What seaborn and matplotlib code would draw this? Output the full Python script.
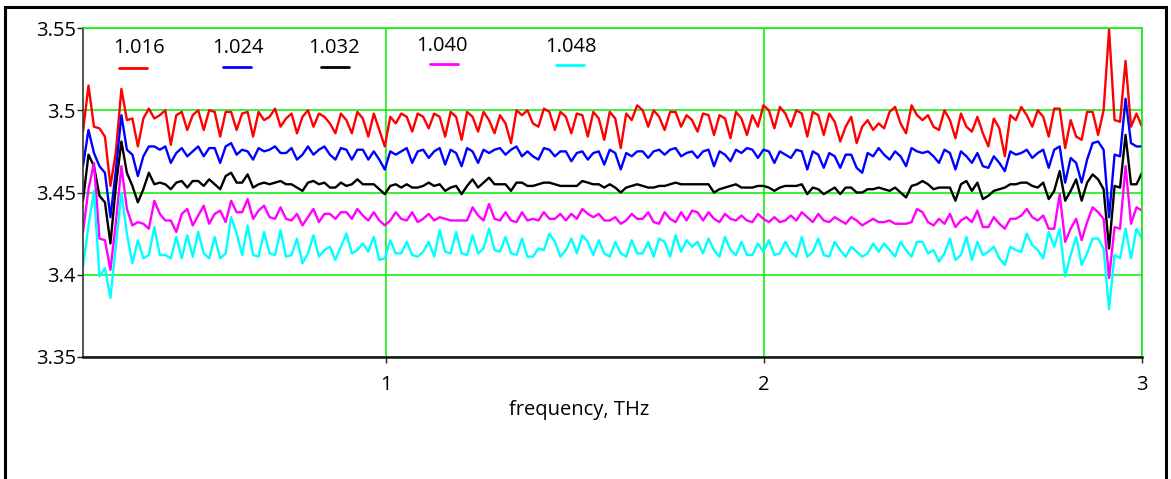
import numpy as np
import pandas as pd
import matplotlib
matplotlib.use("Agg")
import matplotlib.pyplot as plt
from matplotlib.patches import Rectangle
from matplotlib.lines import Line2D
import seaborn as sns

# Series names (legend labels) and colours
series_names = ["1.016", "1.024", "1.032", "1.040", "1.048"]
series_colors = ["#ff0000", "#0000ff", "#000000", "#ff00ff", "#00ffff"]

f_start, f_stop = 0.2, 3.0

n_1016 = [
    3.487, 3.515, 3.490, 3.489, 3.484, 3.454, 3.475, 3.513, 3.494, 3.495, 3.478, 3.495, 3.501, 3.495,
    3.497, 3.500, 3.479, 3.497, 3.499, 3.488, 3.497, 3.500, 3.488, 3.500, 3.499, 3.484, 3.499, 3.499,
    3.488, 3.498, 3.499, 3.484, 3.499, 3.494, 3.496, 3.501, 3.490, 3.495, 3.498, 3.486, 3.496, 3.500,
    3.490, 3.498, 3.496, 3.492, 3.486, 3.498, 3.494, 3.486, 3.499, 3.495, 3.484, 3.498, 3.488,
    3.478, 3.496, 3.492, 3.498, 3.496, 3.487, 3.498, 3.496, 3.489, 3.498, 3.496, 3.484, 3.499, 3.496,
    3.482, 3.499, 3.496, 3.487, 3.499, 3.494, 3.486, 3.497, 3.492, 3.480, 3.500, 3.497, 3.500,
    3.492, 3.490, 3.501, 3.499, 3.488, 3.499, 3.496, 3.486, 3.498, 3.497, 3.484, 3.499, 3.495, 3.482,
    3.499, 3.495, 3.477, 3.498, 3.494, 3.503, 3.500, 3.490, 3.500, 3.496, 3.488, 3.499, 3.499,
    3.490, 3.497, 3.494, 3.487, 3.498, 3.497, 3.485, 3.497, 3.495, 3.483, 3.499, 3.495, 3.485, 3.497,
    3.490, 3.503, 3.500, 3.489, 3.502, 3.498, 3.490, 3.500, 3.498, 3.484, 3.499, 3.497, 3.485,
    3.498, 3.493, 3.481, 3.490, 3.496, 3.480, 3.490, 3.494, 3.488, 3.492, 3.489, 3.499, 3.502, 3.492,
    3.486, 3.503, 3.497, 3.494, 3.497, 3.490, 3.488, 3.500, 3.494, 3.483, 3.498, 3.490, 3.487,
    3.496, 3.486, 3.478, 3.495, 3.489, 3.472, 3.497, 3.494, 3.502, 3.497, 3.490, 3.500, 3.496, 3.484,
    3.501, 3.501, 3.477, 3.494, 3.484, 3.482, 3.499, 3.499, 3.485, 3.500, 3.549, 3.494, 3.493, 3.530,
    3.490, 3.498, 3.490,
]

n_1024 = [
    3.466, 3.488, 3.474, 3.466, 3.462, 3.435, 3.464, 3.497, 3.476, 3.473, 3.460, 3.472, 3.478, 3.478,
    3.476, 3.478, 3.468, 3.474, 3.477, 3.472, 3.475, 3.478, 3.472, 3.477, 3.477, 3.468, 3.478, 3.480,
    3.473, 3.476, 3.475, 3.470, 3.477, 3.475, 3.476, 3.478, 3.474, 3.474, 3.477, 3.470, 3.473, 3.478,
    3.473, 3.476, 3.478, 3.473, 3.470, 3.477, 3.476, 3.470, 3.476, 3.476, 3.470, 3.475, 3.470,
    3.464, 3.475, 3.473, 3.475, 3.477, 3.468, 3.475, 3.476, 3.471, 3.475, 3.477, 3.467, 3.476, 3.474,
    3.466, 3.477, 3.475, 3.468, 3.476, 3.474, 3.476, 3.477, 3.473, 3.476, 3.478, 3.472, 3.475,
    3.472, 3.470, 3.477, 3.476, 3.472, 3.475, 3.475, 3.469, 3.474, 3.475, 3.470, 3.474, 3.475, 3.467,
    3.476, 3.474, 3.464, 3.474, 3.472, 3.475, 3.475, 3.471, 3.475, 3.476, 3.473, 3.476, 3.477,
    3.472, 3.474, 3.475, 3.471, 3.475, 3.476, 3.466, 3.475, 3.473, 3.469, 3.476, 3.474, 3.477, 3.476,
    3.471, 3.476, 3.475, 3.468, 3.475, 3.473, 3.471, 3.476, 3.475, 3.464, 3.475, 3.473, 3.465,
    3.474, 3.472, 3.465, 3.473, 3.473, 3.465, 3.462, 3.474, 3.472, 3.477, 3.473, 3.470, 3.475, 3.472,
    3.466, 3.477, 3.475, 3.474, 3.475, 3.472, 3.468, 3.476, 3.474, 3.464, 3.475, 3.472, 3.468,
    3.474, 3.466, 3.465, 3.472, 3.468, 3.463, 3.475, 3.473, 3.474, 3.476, 3.471, 3.474, 3.476, 3.465,
    3.476, 3.478, 3.456, 3.471, 3.468, 3.456, 3.470, 3.480, 3.481, 3.476, 3.435, 3.473, 3.472, 3.507,
    3.480, 3.478, 3.478,
]

n_1032 = [
    3.445, 3.473, 3.466, 3.448, 3.444, 3.419, 3.454, 3.481, 3.462, 3.454, 3.444, 3.452, 3.462, 3.455,
    3.456, 3.455, 3.452, 3.456, 3.457, 3.453, 3.457, 3.457, 3.454, 3.458, 3.455, 3.452, 3.460, 3.462,
    3.456, 3.456, 3.461, 3.453, 3.455, 3.456, 3.455, 3.456, 3.457, 3.455, 3.455, 3.453, 3.451, 3.456,
    3.457, 3.455, 3.456, 3.453, 3.453, 3.456, 3.454, 3.455, 3.458, 3.455, 3.455, 3.455, 3.452,
    3.449, 3.454, 3.455, 3.453, 3.455, 3.453, 3.453, 3.454, 3.456, 3.454, 3.455, 3.451, 3.453, 3.454,
    3.449, 3.454, 3.458, 3.453, 3.456, 3.459, 3.455, 3.455, 3.455, 3.451, 3.456, 3.456, 3.454,
    3.454, 3.455, 3.456, 3.456, 3.455, 3.454, 3.454, 3.454, 3.454, 3.457, 3.456, 3.455, 3.455, 3.453,
    3.455, 3.453, 3.450, 3.453, 3.454, 3.455, 3.454, 3.453, 3.453, 3.454, 3.454, 3.455, 3.456,
    3.455, 3.455, 3.455, 3.455, 3.455, 3.455, 3.450, 3.452, 3.453, 3.454, 3.455, 3.453, 3.453, 3.453,
    3.454, 3.454, 3.453, 3.451, 3.453, 3.454, 3.454, 3.454, 3.455, 3.449, 3.453, 3.452, 3.449,
    3.451, 3.453, 3.449, 3.453, 3.453, 3.450, 3.450, 3.452, 3.452, 3.453, 3.452, 3.451, 3.453, 3.450,
    3.447, 3.454, 3.455, 3.457, 3.455, 3.452, 3.453, 3.453, 3.453, 3.445, 3.455, 3.457, 3.451,
    3.456, 3.446, 3.448, 3.451, 3.452, 3.453, 3.455, 3.455, 3.456, 3.456, 3.454, 3.453, 3.456, 3.446,
    3.451, 3.463, 3.445, 3.451, 3.458, 3.445, 3.456, 3.461, 3.458, 3.452, 3.416, 3.454, 3.453, 3.485,
    3.455, 3.455, 3.462,
]

n_1040 = [
    3.426, 3.452, 3.468, 3.422, 3.421, 3.403, 3.432, 3.466, 3.440, 3.430, 3.432, 3.431, 3.428, 3.445,
    3.437, 3.433, 3.433, 3.426, 3.437, 3.440, 3.430, 3.436, 3.442, 3.431, 3.437, 3.439, 3.432, 3.445,
    3.438, 3.438, 3.446, 3.434, 3.439, 3.442, 3.435, 3.434, 3.441, 3.434, 3.433, 3.437, 3.430, 3.435,
    3.440, 3.432, 3.437, 3.437, 3.434, 3.438, 3.438, 3.434, 3.440, 3.436, 3.433, 3.438, 3.433,
    3.430, 3.433, 3.438, 3.434, 3.433, 3.438, 3.432, 3.434, 3.437, 3.433, 3.435, 3.434, 3.433, 3.433,
    3.433, 3.433, 3.441, 3.436, 3.433, 3.443, 3.434, 3.433, 3.438, 3.433, 3.432, 3.438, 3.433,
    3.434, 3.433, 3.438, 3.434, 3.434, 3.437, 3.433, 3.437, 3.434, 3.440, 3.437, 3.435, 3.437, 3.433,
    3.433, 3.435, 3.431, 3.433, 3.437, 3.434, 3.434, 3.438, 3.432, 3.431, 3.438, 3.434, 3.432,
    3.438, 3.433, 3.439, 3.438, 3.433, 3.438, 3.434, 3.432, 3.437, 3.434, 3.433, 3.436, 3.433, 3.432,
    3.437, 3.434, 3.432, 3.435, 3.432, 3.433, 3.436, 3.433, 3.438, 3.435, 3.432, 3.437, 3.433,
    3.432, 3.435, 3.433, 3.431, 3.435, 3.433, 3.430, 3.432, 3.434, 3.432, 3.432, 3.433, 3.431, 3.431,
    3.431, 3.432, 3.440, 3.438, 3.432, 3.430, 3.434, 3.431, 3.437, 3.429, 3.433, 3.435, 3.432,
    3.439, 3.429, 3.429, 3.435, 3.431, 3.428, 3.434, 3.434, 3.436, 3.440, 3.435, 3.433, 3.436, 3.428,
    3.428, 3.449, 3.420, 3.428, 3.434, 3.421, 3.432, 3.441, 3.438, 3.434, 3.398, 3.429, 3.428, 3.466,
    3.431, 3.441, 3.439,
]

n_1048 = [
    3.405, 3.430, 3.451, 3.399, 3.404, 3.386, 3.418, 3.450, 3.425, 3.407, 3.421, 3.410, 3.412, 3.429,
    3.412, 3.412, 3.410, 3.423, 3.410, 3.424, 3.411, 3.426, 3.413, 3.410, 3.423, 3.410, 3.413, 3.435,
    3.425, 3.412, 3.430, 3.412, 3.411, 3.426, 3.413, 3.412, 3.427, 3.411, 3.412, 3.422, 3.407, 3.413,
    3.424, 3.411, 3.415, 3.417, 3.409, 3.417, 3.425, 3.413, 3.415, 3.419, 3.414, 3.423, 3.409,
    3.410, 3.421, 3.413, 3.413, 3.420, 3.412, 3.411, 3.414, 3.420, 3.411, 3.427, 3.414, 3.413, 3.426,
    3.413, 3.412, 3.424, 3.413, 3.416, 3.428, 3.415, 3.414, 3.423, 3.413, 3.412, 3.422, 3.411,
    3.411, 3.416, 3.415, 3.425, 3.420, 3.411, 3.415, 3.422, 3.413, 3.424, 3.420, 3.412, 3.421, 3.413,
    3.411, 3.420, 3.413, 3.411, 3.421, 3.413, 3.413, 3.420, 3.411, 3.422, 3.420, 3.411, 3.424,
    3.414, 3.421, 3.417, 3.420, 3.413, 3.422, 3.415, 3.411, 3.423, 3.415, 3.412, 3.420, 3.412, 3.412,
    3.419, 3.414, 3.421, 3.412, 3.413, 3.420, 3.414, 3.411, 3.423, 3.411, 3.414, 3.422, 3.412,
    3.411, 3.420, 3.415, 3.411, 3.417, 3.414, 3.411, 3.413, 3.419, 3.414, 3.419, 3.415, 3.411, 3.420,
    3.415, 3.411, 3.420, 3.420, 3.413, 3.415, 3.408, 3.413, 3.422, 3.409, 3.412, 3.423, 3.409,
    3.420, 3.412, 3.414, 3.417, 3.410, 3.406, 3.417, 3.415, 3.414, 3.425, 3.418, 3.415, 3.410, 3.426,
    3.417, 3.428, 3.399, 3.412, 3.423, 3.406, 3.413, 3.422, 3.422, 3.416, 3.379, 3.412, 3.410, 3.428,
    3.410, 3.428, 3.422,
]

y_ticks = [3.35, 3.4, 3.45, 3.5, 3.55]
x_ticks = [1, 2, 3]
x_label = "frequency, THz"

all_values = [n_1016, n_1024, n_1032, n_1040, n_1048]
frames = []
for name, vals in zip(series_names, all_values):
    freq = np.linspace(f_start, f_stop, len(vals))
    frames.append(pd.DataFrame({"freq": freq, "n": vals, "series": name}))
df = pd.concat(frames, ignore_index=True)

sns.set_style("white")
plt.rcParams["font.family"] = ["Open Sans", "DejaVu Sans"]

W, H = 1171, 479
fig = plt.figure(figsize=(W / 100, H / 100), dpi=100)
ax = fig.add_axes([83 / W, 1 - 357 / H, (1142 - 83) / W, (357 - 28) / H])

green = "#00f000"
ax.set_axisbelow(True)
ax.grid(True, color=green, lw=1.1)

sns.lineplot(data=df, x="freq", y="n", hue="series", hue_order=series_names,
             palette=series_colors, lw=1.7, legend=False, ax=ax, sort=False,
             estimator=None)

ax.set_xlim(f_start, f_stop)
ax.set_ylim(y_ticks[0], y_ticks[-1])
ax.set_xticks(x_ticks)
ax.set_xticklabels([str(t) for t in x_ticks])
ax.set_yticks(y_ticks)
ax.set_yticklabels([f"{t:g}" for t in y_ticks])
ax.set_xlabel("")
ax.set_ylabel("")

for side in ("top", "right"):
    ax.spines[side].set_color(green)
    ax.spines[side].set_linewidth(1.1)
ax.spines["left"].set_color("#333333")
ax.spines["left"].set_linewidth(1.2)
ax.spines["bottom"].set_color("#111111")
ax.spines["bottom"].set_linewidth(1.8)

ax.tick_params(axis="y", direction="out", length=4, width=1, pad=1,
               labelsize=14.5, colors="#222222", left=True)
ax.tick_params(axis="x", direction="out", length=4, width=1, pad=9,
               labelsize=14.5, colors="#222222", bottom=True)
for lbl in ax.get_xticklabels() + ax.get_yticklabels():
    lbl.set_color("black")

fig.text(579 / W, 1 - 410 / H, x_label, ha="center", va="center",
         fontsize=14.5, color="black")

# Legend: value label above a short coloured dash
legend_text_pos = [(139, 48), (238, 48), (334, 48), (442, 46), (571, 47)]
legend_line_pos = [(119, 147, 68), (223, 251, 67), (321, 349, 67), (430, 458, 64), (556, 584, 65)]
for name, color, (tx, ty), (x0, x1, ly) in zip(series_names, series_colors,
                                                 legend_text_pos, legend_line_pos):
    fig.text(tx / W, 1 - ty / H, name, ha="center", va="center",
             fontsize=14.5, color="black")
    fig.add_artist(Line2D([x0 / W, x1 / W], [1 - ly / H, 1 - ly / H],
                          color=color, lw=2, transform=fig.transFigure))

# Outer frame around the figure
fig.add_artist(Rectangle((5 / W, -0.05), (1166 - 5) / W, 1.05 - 7 / H,
                         transform=fig.transFigure, fill=False,
                         edgecolor="black", lw=2.2))

fig.savefig("out.png", dpi=100)
